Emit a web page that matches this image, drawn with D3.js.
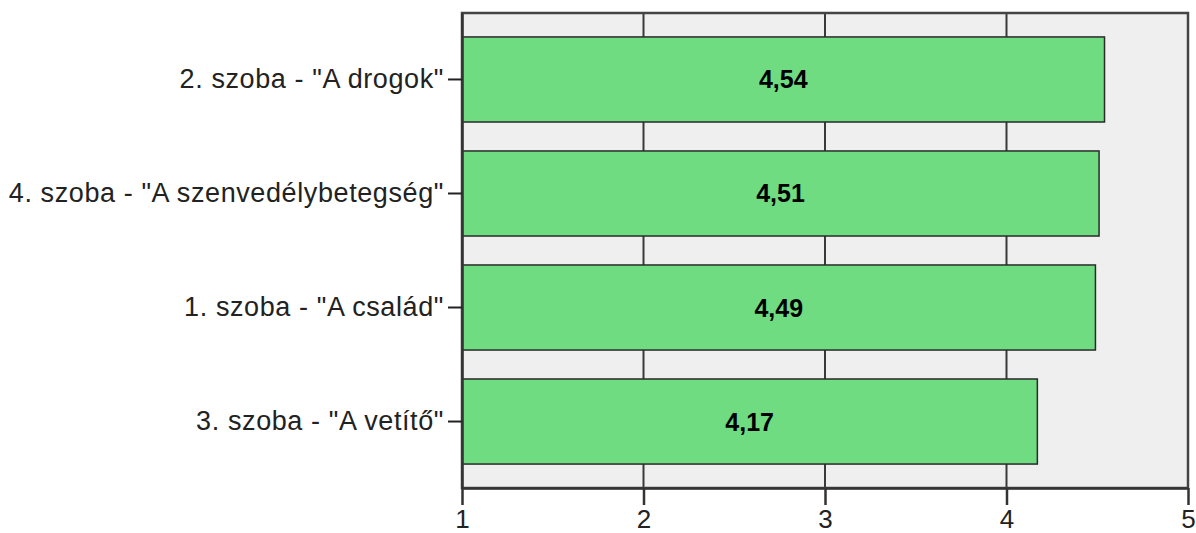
<!DOCTYPE html>
<html>
<head>
<meta charset="utf-8">
<script src="https://cdn.jsdelivr.net/npm/d3@7"></script>
<style>
  body { margin: 0; background: #fff; }
  text { font-family: "Liberation Sans", Arial, sans-serif; }
</style>
</head>
<body>
<div id="chart-area"></div>
<script>
// data
var rooms = ['2. szoba - "A drogok"', '4. szoba - "A szenvedélybetegség"', '1. szoba - "A család"', '3. szoba - "A vetítő"'];
var means = [4.54, 4.51, 4.49, 4.17];
var ticks = [1, 2, 3, 4, 5];

var width = 1196;
var height = 533;
var margin = {top: 13, right: 8, bottom: 45, left: 462};

var svg = d3.select("#chart-area").append("svg")
	.attr("width", width)
	.attr("height", height);

var innerW = width - margin.left - margin.right;
var innerH = height - margin.top - margin.bottom;

var g = svg.append("g")
	.attr("transform", "translate(" + margin.left + ", " + margin.top + ")");

var x = d3.scaleLinear()
	.domain([1, 5])
	.range([0, 726]);

var y = d3.scaleBand()
	.domain(rooms)
	.range([0, innerH])
	.paddingInner(0.254)
	.paddingOuter(0.21);

// background
g.append("rect")
	.attr("width", x(5))
	.attr("height", innerH)
	.attr("fill", "#efefef");

// grid lines
g.selectAll(".grid")
	.data(ticks.slice(1, 4))
	.enter()
	.append("line")
		.attr("class", "grid")
		.attr("x1", d => x(d))
		.attr("x2", d => x(d))
		.attr("y1", 0)
		.attr("y2", innerH)
		.attr("stroke", "#3a3a3a")
		.attr("stroke-width", 2);

// bars
g.selectAll(".bar")
	.data(means)
	.enter()
	.append("rect")
		.attr("class", "bar")
		.attr("x", x(1))
		.attr("y", (d, i) => y(rooms[i]))
		.attr("width", d => x(d) - x(1))
		.attr("height", y.bandwidth())
		.attr("fill", "#6fdc82")
		.attr("stroke", "#2a2a2a")
		.attr("stroke-width", 1.5);

// value labels
g.selectAll(".val")
	.data(means)
	.enter()
	.append("text")
		.attr("class", "val")
		.attr("x", d => (x(d) + x(1)) / 2)
		.attr("y", (d, i) => y(rooms[i]) + y.bandwidth() / 2)
		.attr("dy", "0.36em")
		.attr("text-anchor", "middle")
		.attr("font-size", "25px")
		.attr("font-weight", "bold")
		.attr("fill", "#000")
		.text(d => d3.format(".2f")(d).replace(".", ","));

// frame
g.append("rect")
	.attr("width", x(5))
	.attr("height", innerH)
	.attr("fill", "none")
	.attr("stroke", "#444")
	.attr("stroke-width", 2.5);

// axes
var bottomAxis = d3.axisBottom(x)
	.tickValues(ticks)
	.tickFormat(d3.format("d"))
	.tickSize(17)
	.tickSizeOuter(0);
var bx = g.append("g")
	.attr("transform", "translate(0, " + innerH + ")")
	.call(bottomAxis);
bx.select(".domain").attr("stroke", "#333").attr("stroke-width", 2.5);
bx.selectAll(".tick line").attr("stroke", "#333").attr("stroke-width", 2.5);
bx.selectAll("text")
	.attr("font-size", "26px")
	.attr("fill", "#222")
	.attr("dy", 0)
	.attr("y", 40);

var leftAxis = d3.axisLeft(y)
	.tickSize(14)
	.tickSizeOuter(0)
	.tickPadding(4);
var ly = g.append("g")
	.call(leftAxis);
ly.select(".domain").attr("stroke", "#333").attr("stroke-width", 2.5);
ly.selectAll(".tick line").attr("stroke", "#222").attr("stroke-width", 2);
ly.selectAll("text")
	.attr("font-size", "27px")
	.attr("letter-spacing", "0.6px")
	.attr("fill", "#222");
</script>
</body>
</html>
